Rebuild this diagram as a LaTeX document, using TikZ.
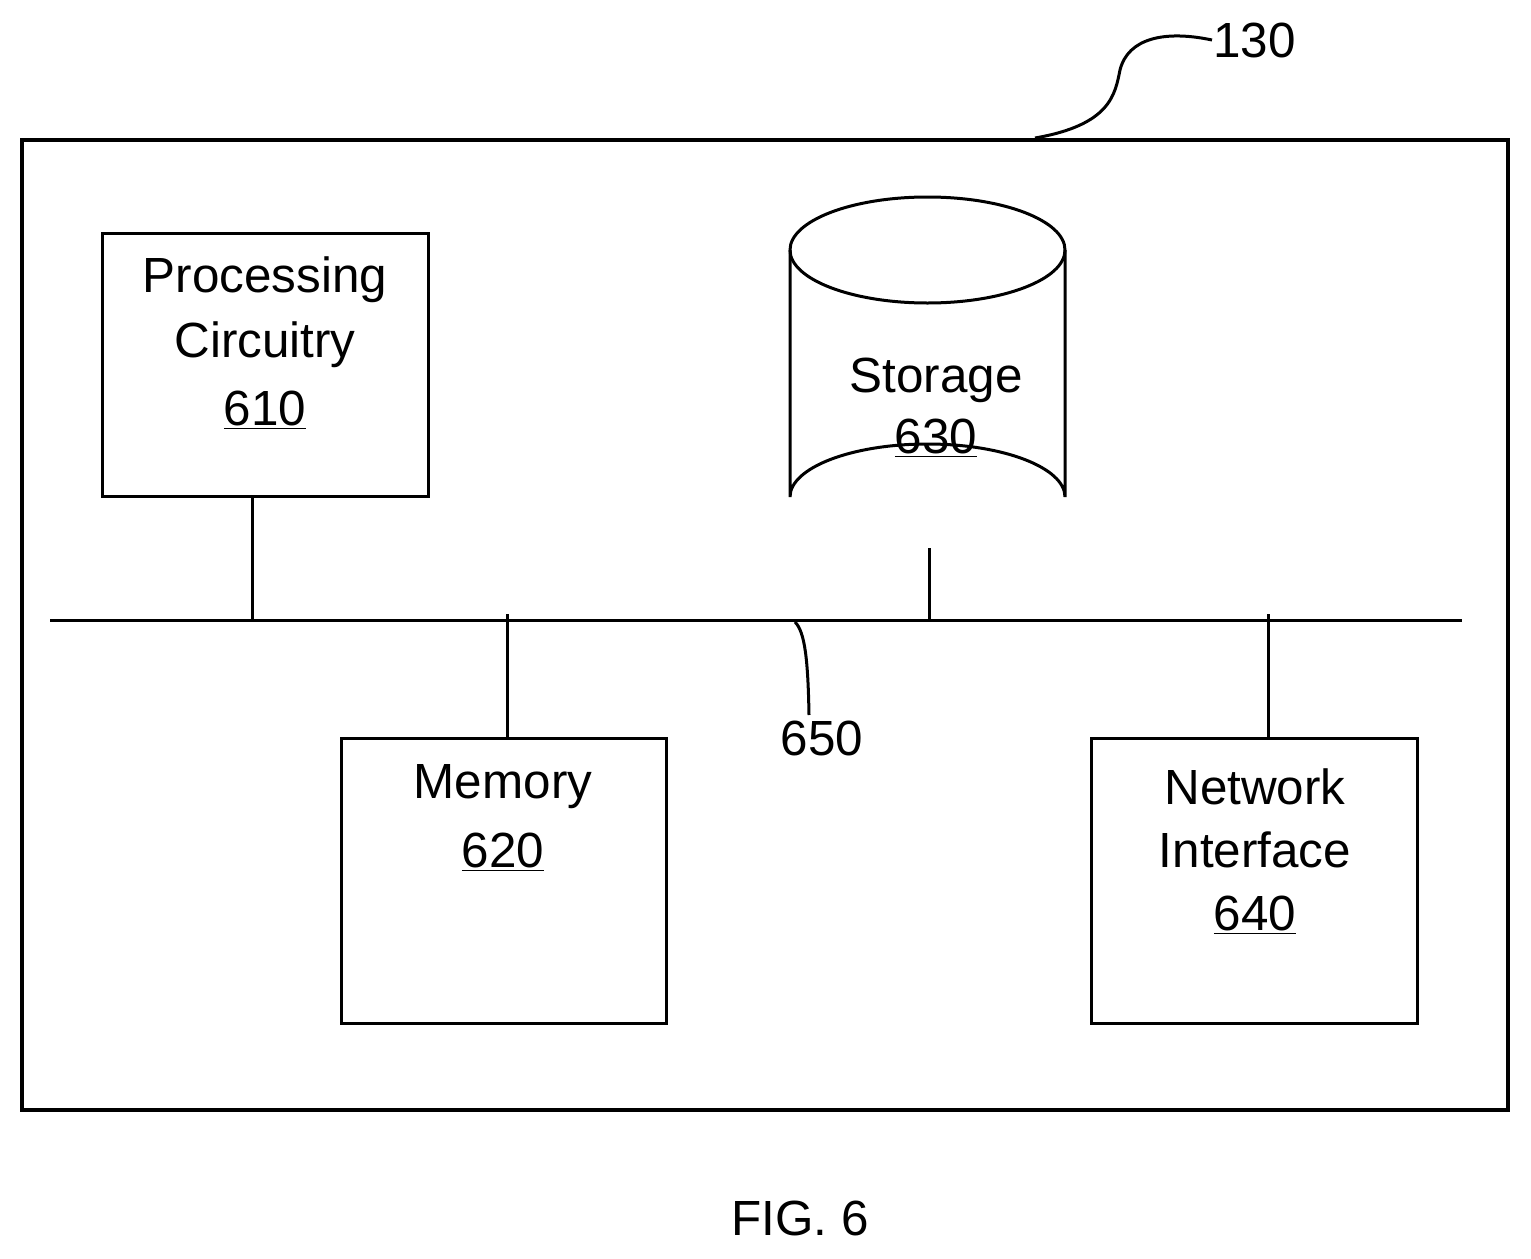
\documentclass[tikz,border=0pt]{standalone}
\usepackage{fontspec}
\setmainfont{Liberation Sans}
\begin{document}
\begin{tikzpicture}[x=0.5pt,y=-0.5pt,line width=1.5pt,
  lbl/.style={font=\fontsize{24.7}{29}\selectfont,align=center,inner sep=0},
  box/.style={draw,line width=1.5pt}]
\useasboundingbox (0,0) rectangle (1531,1258);
\draw[line width=1.7pt] (22,140) rectangle (1508,1110);
\coordinate (o130) at (1035,138);
\node[lbl,anchor=west] (t130) at (1212,40) {130};
\draw (o130) .. controls (1110,125) and (1115,95) .. (1120,70) .. controls (1128,38) and (1165,30) .. (t130.west);
\node[box,minimum width=163pt,minimum height=131.5pt] (p) at (265,364.5) {};
\node[lbl] at (265,280) {Processing};
\node[lbl] at (265,345) {Circuitry};
\node[lbl] at (265,410) {\underline{610}};
% cylinder
\draw (790,250) arc[start angle=180,end angle=360,x radius=137.5,y radius=53];
\draw (790,250) arc[start angle=180,end angle=0,x radius=137.5,y radius=53];
\draw (790,250) -- (790,497) arc[start angle=180,end angle=360,x radius=137.5,y radius=53] -- (1065,250);
\coordinate (s) at (929,548);
\node[lbl] at (936,380) {Storage};
\node[lbl] at (936,438) {\underline{630}};
\coordinate (bl) at (50,620); \coordinate (br) at (1462,620);
\draw (bl) -- (br);
\draw (252,496) -- (252,620);
\draw (s) -- (929,620);
\node[box,minimum width=162.5pt,minimum height=142.5pt] (m) at (503.5,880.5) {};
\node[lbl] at (503,787) {Memory};
\node[lbl] at (503,852) {\underline{620}};
\draw (507,614) -- (m.north -| 507,0);
\node[box,minimum width=163pt,minimum height=142.5pt] (n) at (1254,880.5) {};
\node[lbl] at (1255,787) {Network};
\node[lbl] at (1255,850) {Interface};
\node[lbl] at (1255,915) {\underline{640}};
\draw (1268,614) -- (n.north -| 1268,0);
\node[lbl] (t650) at (822,738) {650};
\draw (795,622) .. controls (805,632) and (808,660) .. (809,715);
\node[lbl] at (800,1218) {FIG. 6};
\end{tikzpicture}
\end{document}
